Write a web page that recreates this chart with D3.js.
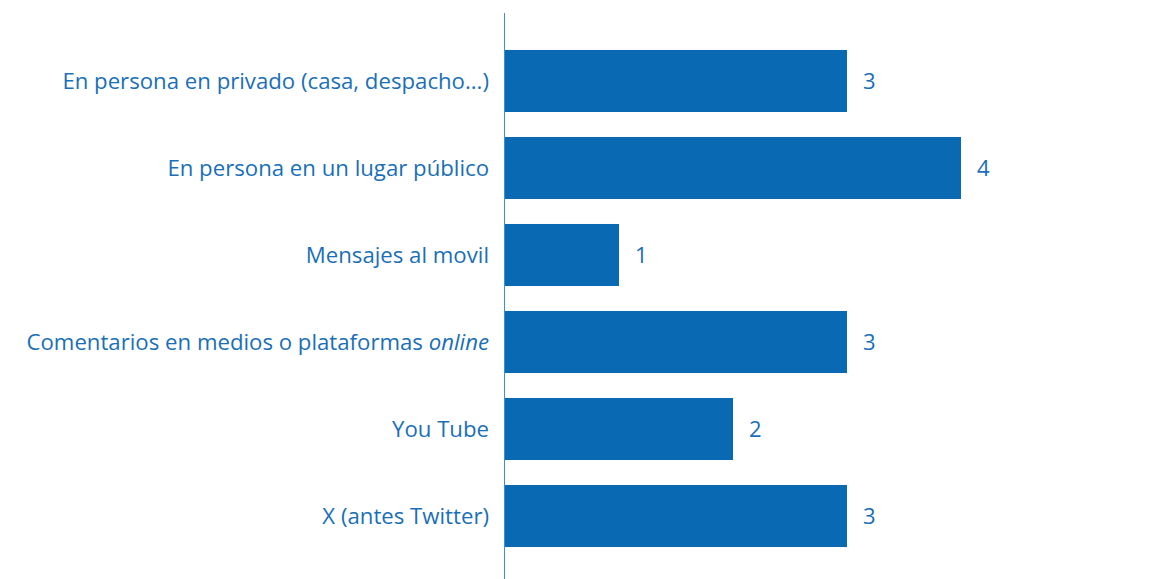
<!DOCTYPE html>
<html><head><meta charset="utf-8">
<script src="https://cdn.jsdelivr.net/npm/d3@7"></script>
<style>body{margin:0;background:#fff}svg{display:block}</style>
</head><body>
<svg id="c" width="1158" height="579"></svg>
<script>
const categories = [
  "En persona en privado (casa, despacho...)",
  "En persona en un lugar público",
  "Mensajes al movil",
  "Comentarios en medios o plataformas |online",
  "You Tube",
  "X (antes Twitter)"
];
const values = [3, 4, 1, 3, 2, 3];

const barColor = "#0a69b3", textColor = "#1a6fb8";
const svg = d3.select("#c");
const x = d3.scaleLinear().domain([0, 4]).range([505, 961]);
const y = d3.scaleBand().domain(categories).range([13, 584]).paddingInner(0.287).paddingOuter(0.425);

svg.selectAll("rect.bar").data(categories).join("rect")
  .attr("class", "bar")
  .attr("x", x(0)).attr("y", d => y(d))
  .attr("width", (d, i) => x(values[i]) - x(0))
  .attr("height", y.bandwidth())
  .attr("fill", barColor);

svg.append("line").attr("x1", 504.5).attr("x2", 504.5).attr("y1", 13).attr("y2", 584)
  .attr("stroke", "#3d8fd0").attr("stroke-width", 1);

const font = "'Open Sans', sans-serif";
const lab = svg.selectAll("text.cat").data(categories).join("text")
  .attr("class", "cat")
  .attr("x", 489).attr("y", d => y(d) + y.bandwidth() / 2)
  .attr("dy", "0.35em").attr("text-anchor", "end")
  .attr("font-family", font).attr("font-size", 22.2).attr("fill", textColor);
lab.each(function(d) {
  const parts = d.split("|");
  const t = d3.select(this);
  t.append("tspan").text(parts[0]);
  if (parts[1]) t.append("tspan").attr("font-style", "italic").text(parts[1]);
});

svg.selectAll("text.val").data(categories).join("text")
  .attr("class", "val")
  .attr("x", (d, i) => x(values[i]) + 16).attr("y", d => y(d) + y.bandwidth() / 2)
  .attr("dy", "0.35em")
  .attr("font-family", font).attr("font-size", 22).attr("fill", textColor)
  .text((d, i) => values[i]);
</script>
</body></html>
